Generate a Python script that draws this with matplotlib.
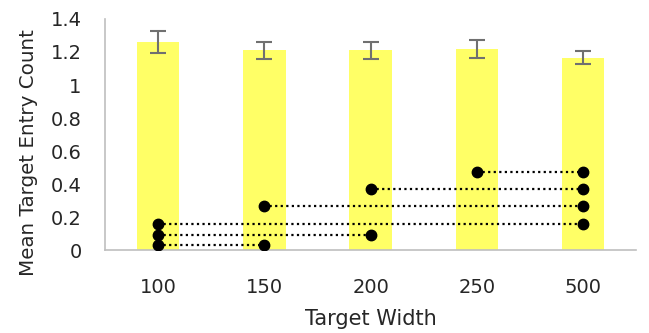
import matplotlib.pyplot as plt
from matplotlib.ticker import FuncFormatter

widths = ["100", "150", "200", "250", "500"]
mean_entries = [1.26, 1.21, 1.21, 1.22, 1.165]
entry_err = [0.067, 0.053, 0.05, 0.055, 0.04]

# significant pairwise differences: (first width, second width, marker height)
pair_start = ["100", "100", "100", "150", "200", "250"]
pair_end = ["150", "200", "500", "500", "500", "500"]
pair_level = [0.03, 0.09, 0.16, 0.27, 0.37, 0.47]

plt.rcParams['font.family'] = ['DejaVu Sans']

fig = plt.figure(figsize=(6.49, 3.33), dpi=100)
ax = fig.add_axes([0.162, 0.249, 0.818, 0.694])

xpos = list(range(len(widths)))
ax.bar(xpos, mean_entries, width=0.4, color='#FFFF66', zorder=1)
ax.errorbar(xpos, mean_entries, yerr=entry_err, fmt='none', ecolor='#707070',
            elinewidth=1.5, capsize=6, capthick=1.5, zorder=2)

for a, b, lvl in zip(pair_start, pair_end, pair_level):
    xa, xb = widths.index(a), widths.index(b)
    ax.plot([xa, xb], [lvl, lvl], linestyle=(0, (1, 1.5)), color='black',
            linewidth=1.6, zorder=3)
    ax.plot([xa, xb], [lvl, lvl], linestyle='none', marker='o', markersize=7.5,
            color='black', zorder=4)

ax.set_xlim(-0.5, 4.5)
ax.set_ylim(0, 1.4)
ax.set_xticks(xpos)
ax.set_xticklabels(widths)
ax.set_yticks([0, 0.2, 0.4, 0.6, 0.8, 1.0, 1.2, 1.4])
ax.yaxis.set_major_formatter(FuncFormatter(lambda v, p: f"{v:g}"))
ax.tick_params(length=0, labelsize=14, colors='#262626')
ax.tick_params(axis='y', pad=17)
ax.tick_params(axis='x', pad=20)

for s in ['top', 'right']:
    ax.spines[s].set_visible(False)
for s in ['left', 'bottom']:
    ax.spines[s].set_color('#bfbfbf')
    ax.spines[s].set_linewidth(1.2)

ax.set_xlabel("Target Width", fontsize=15, color='#262626')
ax.set_ylabel("Mean Target Entry Count", fontsize=14.3, color='#262626')
ax.xaxis.set_label_coords(0.5, -0.255)
ax.yaxis.set_label_coords(-0.126, 0.42)

fig.savefig("out.png", dpi=100)
